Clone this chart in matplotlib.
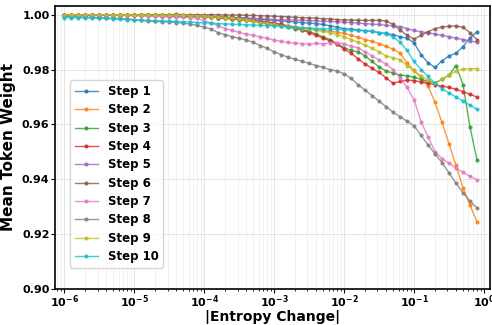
import numpy as np
import matplotlib
matplotlib.use("Agg")
import matplotlib.pyplot as plt
from matplotlib.ticker import LogLocator, NullFormatter

# |entropy change| grid, 10 points per decade (10^-6 ... 10^-0.1)
log_delta = np.arange(-6.0, -0.05, 0.1)
entropy_change = 10 ** log_delta

step_labels = [f"Step {i}" for i in range(1, 11)]
x_decades = [-6, -5, -4, -3, -2, -1, 0]
y_ticks = [0.90, 0.92, 0.94, 0.96, 0.98, 1.00]

step1 = [1.0000, 0.9999, 1.0000, 0.9999, 1.0000, 0.9999, 1.0000, 0.9999, 0.9999, 1.0000,
         0.9999, 0.9999, 0.9998, 0.9999, 0.9998, 0.9998, 0.9997, 0.9997, 0.9996, 0.9996,
         0.9995, 0.9994, 0.9993, 0.9992, 0.9991, 0.9990, 0.9988, 0.9986, 0.9984, 0.9982,
         0.9980, 0.9978, 0.9976, 0.9974, 0.9972, 0.9970, 0.9968, 0.9965, 0.9960, 0.9955,
         0.9950, 0.9947, 0.9945, 0.9942, 0.9940, 0.9935, 0.9932, 0.9928, 0.9920, 0.9915,
         0.9898, 0.9855, 0.9825, 0.9808, 0.9832, 0.9850, 0.9860, 0.9884, 0.9916, 0.9938]
step2 = [1.0000, 0.9999, 1.0000, 0.9999, 0.9999, 1.0000, 0.9999, 0.9999, 0.9999, 0.9998,
         0.9998, 0.9998, 0.9997, 0.9997, 0.9997, 0.9996, 0.9996, 0.9996, 0.9995, 0.9995,
         0.9995, 0.9993, 0.9990, 0.9988, 0.9985, 0.9982, 0.9980, 0.9977, 0.9975, 0.9970,
         0.9968, 0.9965, 0.9960, 0.9957, 0.9953, 0.9950, 0.9947, 0.9943, 0.9940, 0.9937,
         0.9932, 0.9925, 0.9918, 0.9910, 0.9903, 0.9895, 0.9885, 0.9875, 0.9860, 0.9825,
         0.9797, 0.9770, 0.9740, 0.9680, 0.9607, 0.9530, 0.9450, 0.9368, 0.9305, 0.9244]
step3 = [0.9999, 1.0000, 0.9999, 1.0000, 0.9999, 0.9999, 1.0000, 0.9999, 0.9999, 0.9999,
         0.9998, 0.9999, 0.9998, 0.9998, 0.9997, 0.9997, 0.9996, 0.9996, 0.9995, 0.9994,
         0.9993, 0.9992, 0.9990, 0.9988, 0.9986, 0.9983, 0.9980, 0.9976, 0.9972, 0.9968,
         0.9965, 0.9960, 0.9955, 0.9950, 0.9945, 0.9940, 0.9930, 0.9920, 0.9910, 0.9895,
         0.9880, 0.9870, 0.9865, 0.9850, 0.9830, 0.9810, 0.9795, 0.9787, 0.9780, 0.9778,
         0.9772, 0.9765, 0.9757, 0.9752, 0.9765, 0.9780, 0.9815, 0.9745, 0.9590, 0.9470]
step4 = [1.0000, 0.9999, 1.0000, 1.0000, 0.9999, 1.0000, 0.9999, 1.0000, 0.9999, 0.9999,
         0.9999, 0.9999, 0.9998, 0.9999, 0.9998, 0.9998, 0.9998, 0.9997, 0.9997, 0.9996,
         0.9995, 0.9993, 0.9990, 0.9988, 0.9986, 0.9984, 0.9982, 0.9980, 0.9977, 0.9975,
         0.9970, 0.9965, 0.9960, 0.9953, 0.9945, 0.9935, 0.9925, 0.9915, 0.9905, 0.9893,
         0.9875, 0.9860, 0.9840, 0.9820, 0.9805, 0.9790, 0.9770, 0.9750, 0.9757, 0.9762,
         0.9760, 0.9755, 0.9750, 0.9745, 0.9740, 0.9735, 0.9728, 0.9720, 0.9710, 0.9700]
step5 = [1.0000, 1.0000, 0.9999, 1.0000, 1.0000, 0.9999, 1.0000, 0.9999, 1.0000, 0.9999,
         0.9998, 0.9998, 0.9998, 0.9997, 0.9997, 0.9997, 0.9996, 0.9996, 0.9995, 0.9995,
         0.9993, 0.9992, 0.9992, 0.9991, 0.9990, 0.9989, 0.9988, 0.9987, 0.9986, 0.9985,
         0.9983, 0.9982, 0.9981, 0.9981, 0.9980, 0.9979, 0.9978, 0.9977, 0.9976, 0.9975,
         0.9973, 0.9972, 0.9970, 0.9968, 0.9966, 0.9965, 0.9962, 0.9960, 0.9957, 0.9950,
         0.9943, 0.9938, 0.9935, 0.9930, 0.9925, 0.9920, 0.9915, 0.9910, 0.9905, 0.9900]
step6 = [1.0001, 1.0000, 1.0001, 1.0000, 1.0001, 1.0000, 1.0000, 1.0001, 1.0000, 1.0001,
         1.0000, 1.0001, 1.0001, 1.0000, 1.0001, 1.0000, 1.0002, 1.0001, 1.0000, 1.0001,
         1.0000, 1.0001, 1.0000, 1.0000, 0.9999, 1.0000, 0.9998, 0.9998, 0.9997, 0.9996,
         0.9995, 0.9994, 0.9993, 0.9991, 0.9990, 0.9989, 0.9988, 0.9986, 0.9985, 0.9983,
         0.9982, 0.9981, 0.9980, 0.9980, 0.9980, 0.9980, 0.9978, 0.9965, 0.9945, 0.9925,
         0.9912, 0.9925, 0.9938, 0.9950, 0.9956, 0.9958, 0.9960, 0.9955, 0.9935, 0.9910]
step7 = [0.9999, 1.0000, 0.9999, 0.9999, 1.0000, 0.9999, 0.9999, 0.9999, 0.9998, 0.9999,
         0.9998, 0.9997, 0.9996, 0.9995, 0.9994, 0.9993, 0.9992, 0.9991, 0.9990, 0.9987,
         0.9978, 0.9970, 0.9960, 0.9950, 0.9943, 0.9936, 0.9930, 0.9925, 0.9920, 0.9914,
         0.9908, 0.9903, 0.9900, 0.9897, 0.9895, 0.9893, 0.9896, 0.9894, 0.9898, 0.9897,
         0.9895, 0.9885, 0.9880, 0.9865, 0.9850, 0.9835, 0.9820, 0.9800, 0.9770, 0.9735,
         0.9690, 0.9610, 0.9555, 0.9500, 0.9475, 0.9458, 0.9440, 0.9425, 0.9410, 0.9398]
step8 = [0.9995, 0.9994, 0.9993, 0.9992, 0.9991, 0.9990, 0.9989, 0.9988, 0.9987, 0.9985,
         0.9983, 0.9980, 0.9978, 0.9976, 0.9975, 0.9974, 0.9972, 0.9970, 0.9966, 0.9962,
         0.9955, 0.9948, 0.9935, 0.9928, 0.9920, 0.9915, 0.9908, 0.9900, 0.9888, 0.9878,
         0.9865, 0.9855, 0.9845, 0.9838, 0.9830, 0.9823, 0.9815, 0.9808, 0.9800, 0.9795,
         0.9785, 0.9768, 0.9745, 0.9725, 0.9705, 0.9685, 0.9665, 0.9645, 0.9628, 0.9612,
         0.9595, 0.9560, 0.9525, 0.9492, 0.9460, 0.9423, 0.9385, 0.9350, 0.9320, 0.9295]
step9 = [1.0000, 1.0001, 1.0000, 1.0000, 1.0001, 1.0000, 1.0000, 1.0000, 1.0001, 1.0000,
         1.0000, 0.9999, 1.0000, 0.9999, 0.9999, 0.9998, 0.9998, 0.9998, 0.9997, 0.9997,
         0.9995, 0.9993, 0.9991, 0.9990, 0.9988, 0.9985, 0.9980, 0.9977, 0.9972, 0.9970,
         0.9965, 0.9960, 0.9958, 0.9955, 0.9950, 0.9947, 0.9943, 0.9940, 0.9935, 0.9928,
         0.9920, 0.9910, 0.9900, 0.9890, 0.9878, 0.9865, 0.9850, 0.9843, 0.9836, 0.9815,
         0.9795, 0.9777, 0.9762, 0.9750, 0.9765, 0.9780, 0.9795, 0.9802, 0.9803, 0.9804]
step10 = [0.9990, 0.9990, 0.9989, 0.9989, 0.9988, 0.9988, 0.9987, 0.9985, 0.9984, 0.9982,
          0.9981, 0.9980, 0.9980, 0.9979, 0.9978, 0.9977, 0.9976, 0.9975, 0.9974, 0.9972,
          0.9971, 0.9970, 0.9968, 0.9967, 0.9966, 0.9965, 0.9964, 0.9963, 0.9962, 0.9961,
          0.9960, 0.9958, 0.9956, 0.9955, 0.9953, 0.9952, 0.9950, 0.9950, 0.9948, 0.9947,
          0.9946, 0.9945, 0.9943, 0.9942, 0.9940, 0.9935, 0.9930, 0.9920, 0.9900, 0.9870,
          0.9830, 0.9800, 0.9775, 0.9750, 0.9730, 0.9715, 0.9700, 0.9685, 0.9670, 0.9655]

steps = [step1, step2, step3, step4, step5, step6, step7, step8, step9, step10]

plt.rcParams["font.family"] = "DejaVu Sans"
plt.rcParams["font.weight"] = "bold"
plt.rcParams["mathtext.fontset"] = "dejavusans"

fig = plt.figure(figsize=(4.92, 3.25), dpi=100)
ax = fig.add_axes([0.112, 0.112, 0.884, 0.870])

for label, vals in zip(step_labels, steps):
    ax.plot(entropy_change, vals, marker="o", markersize=2, linewidth=1,
            alpha=0.8, label=label)

ax.set_xscale("log")
ax.set_xlim(7.4e-7, 1.22)
ax.set_ylim(0.90, 1.0033)
ax.set_yticks(y_ticks)
ax.set_yticklabels([f"{v:.2f}" for v in y_ticks], fontweight="bold")
ax.set_xticks([10.0 ** d for d in x_decades])
ax.set_xticklabels([r"$\mathbf{10^{%d}}$" % d for d in x_decades])
ax.xaxis.set_minor_locator(LogLocator(base=10, subs=np.arange(2, 10), numticks=20))
ax.xaxis.set_minor_formatter(NullFormatter())

ax.tick_params(axis="both", which="major", labelsize=8, length=3, pad=1)
ax.tick_params(axis="x", which="major", pad=0.5)
ax.tick_params(axis="x", which="minor", length=1.5)

ax.grid(True, which="major", color="#dddddd", linewidth=0.7, alpha=0.8)
ax.grid(True, which="minor", axis="x", color="#e8e8e8", linewidth=0.5, alpha=0.8)
ax.set_axisbelow(True)

for sp in ax.spines.values():
    sp.set_linewidth(1.2)

ax.set_xlabel("|Entropy Change|", fontsize=10, fontweight="bold")
ax.xaxis.set_label_coords(0.5, -0.076)
ax.set_ylabel("Mean Token Weight", fontsize=11, fontweight="bold", labelpad=4)

leg = ax.legend(loc="lower left", bbox_to_anchor=(0.034, 0.074), borderaxespad=0,
                prop={"size": 8.5, "weight": "bold"}, handlelength=2.0,
                labelspacing=0.45, framealpha=0.8)

fig.savefig("out.png", dpi=100)
